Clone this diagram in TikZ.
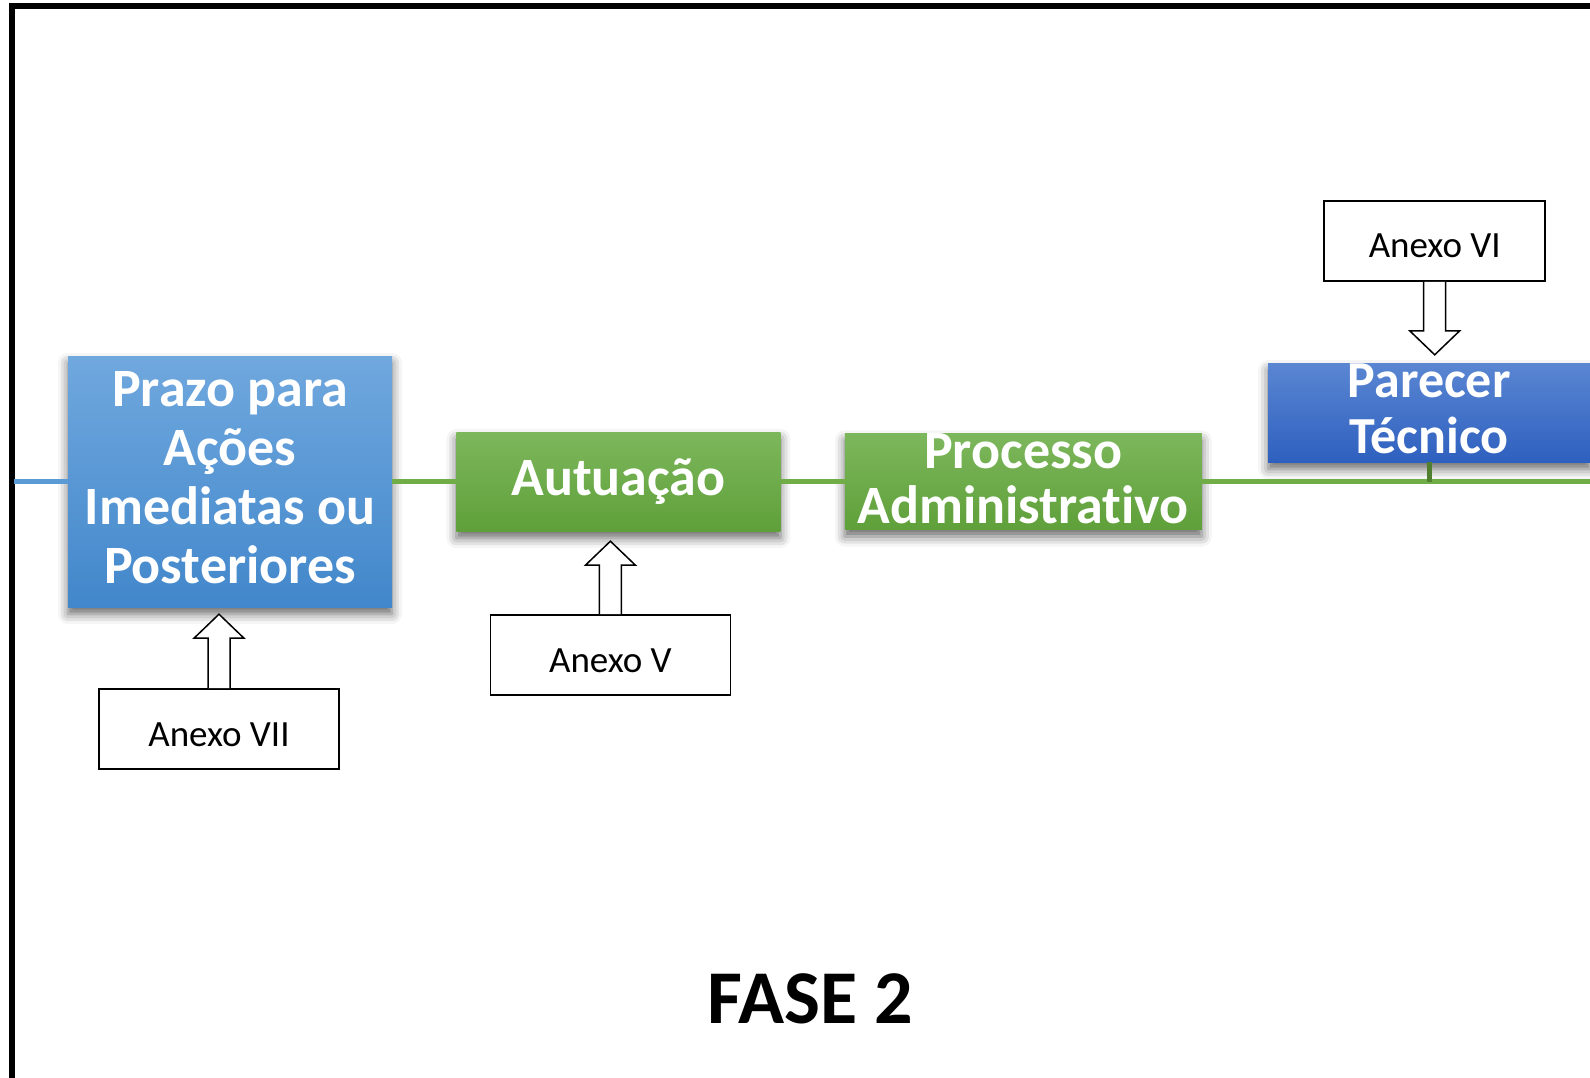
\documentclass[tikz,border=0pt]{standalone}
\usepackage{fontspec}
\setmainfont{Carlito}[Ligatures=NoCommon]
\usetikzlibrary{
    positioning,   % For placing the stage boxes relative to each other
    calc,          % For the let-operations of the block arrows
    shadows.blur   % For the soft shadows below the stage boxes
}
\definecolor{prazoTop}{HTML}{70A8DE}
\definecolor{prazoBot}{HTML}{4287CB}
\definecolor{stageGreenTop}{HTML}{7DB75C}
\definecolor{stageGreenBot}{HTML}{5FA03A}
\definecolor{parecerTop}{HTML}{5A86D2}
\definecolor{parecerBot}{HTML}{2E60BF}
\definecolor{lineBlue}{HTML}{5B9BD5}
\definecolor{lineGreen}{HTML}{70AD47}
\definecolor{stemGreen}{HTML}{4F7F2F}

\begin{document}
\begin{tikzpicture}[
    x=1pt, y=-1pt,
    % Style for the coloured stage boxes
    stage/.style={
        draw=none, inner sep=0pt, minimum height=99pt,
        blur shadow={shadow xshift=0pt, shadow yshift=-7pt,
            shadow blur radius=10pt, shadow opacity=60}
    },
    % Style for the white bold text on the stage boxes
    stage_text/.style={
        text=white, align=center, inner sep=0pt,
        font=\bfseries\fontsize{54}{59}\selectfont
    },
    % Style for the white boxes with the annex names
    annex/.style={
        draw, line width=1.8pt, fill=white, inner sep=0pt,
        minimum width=240pt, minimum height=80pt,
        text height=34pt, text depth=0pt,
        font=\fontsize{37}{44}\selectfont
    },
    % Style for the hollow block arrows
    block_arrow/.style={
        draw, fill=white, line width=1.5pt, line join=miter,
        to path={
            let \p1=(\tikztostart), \p2=(\tikztotarget),
                \p3=($(\tikztotarget)!24pt!(\tikztostart)$) in
            (\x1-11pt,\y1) -- (\x1-11pt,\y3) -- (\x1-25pt,\y3) -- (\x1,\y2)
            -- (\x1+25pt,\y3) -- (\x1+11pt,\y3) -- (\x1+11pt,\y1)
        }
    },
    % Style for the time line
    time_line/.style={line width=5pt}
]
    \useasboundingbox (0,0) rectangle (1590,1077);
    \clip (0,0) rectangle (1590,1077);

    % 1. The open frame round the page.
    \draw[line width=6pt, line join=miter] (11.5,1100) -- (11.5,6) -- (1600,6);

    % 2. The stage boxes along the time line.
    \node[stage, minimum width=324pt, minimum height=251pt,
        top color=prazoTop, bottom color=prazoBot,
        label={[stage_text, yshift=4pt]center:{Prazo para\\Ações\\Imediatas ou\\Posteriores}}]
        (prazo) at (230,481.5) {};
    \node[stage, minimum width=324pt, right=64pt of prazo,
        top color=stageGreenTop, bottom color=stageGreenBot,
        label={[stage_text]center:{Autuação}}] (autuacao) {};
    \node[stage, minimum width=357pt, minimum height=96pt, right=64pt of autuacao,
        top color=stageGreenTop, bottom color=stageGreenBot,
        label={[stage_text, yshift=3pt, font=\bfseries\fontsize{54}{55}\selectfont]center:{Processo\\Administrativo}}]
        (processo) {};
    \node[stage, minimum width=322pt, right=66pt of processo, yshift=69pt,
        top color=parecerTop, bottom color=parecerBot,
        label={[stage_text, yshift=4pt, font=\bfseries\fontsize{52}{56}\selectfont]center:{Parecer\\Técnico}}]
        (parecer) {};

    % 3. The time line between the stages.
    \coordinate (left_end) at (14,481.5);
    \coordinate (right_end) at (1600,481.5);
    \draw[time_line, lineBlue] (left_end) -- (prazo.west);
    \draw[time_line, lineGreen] (prazo.east) -- (autuacao.west);
    \draw[time_line, lineGreen] (autuacao.east) -- (processo.west);
    \draw[time_line, lineGreen] (processo.east) -- (right_end);
    \draw[time_line, stemGreen] (parecer.south) -- (parecer.south |- right_end);

    % 4. The annex boxes and their block arrows.
    \node[annex, below=81pt of prazo, xshift=-11pt] (anexo_vii) {Anexo VII};
    \node[annex, below=83pt of autuacao, xshift=-8pt] (anexo_v) {Anexo V};
    \node[annex, minimum width=221pt, above=81pt of parecer, xshift=5.5pt] (anexo_vi) {Anexo VI};

    \draw[block_arrow] (anexo_vii.north) to ([yshift=-7pt]anexo_vii.north |- prazo.south);
    \draw[block_arrow] (anexo_v.north) to ([yshift=-10pt]anexo_v.north |- autuacao.south);
    \draw[block_arrow] (anexo_vi.south) to ([yshift=8pt]anexo_vi.south |- parecer.north);

    % 5. The title of the phase.
    \node[anchor=base, font=\bfseries\fontsize{76}{90}\selectfont] (fase) at (810.5,1023) {FASE 2};

\end{tikzpicture}
\end{document}
